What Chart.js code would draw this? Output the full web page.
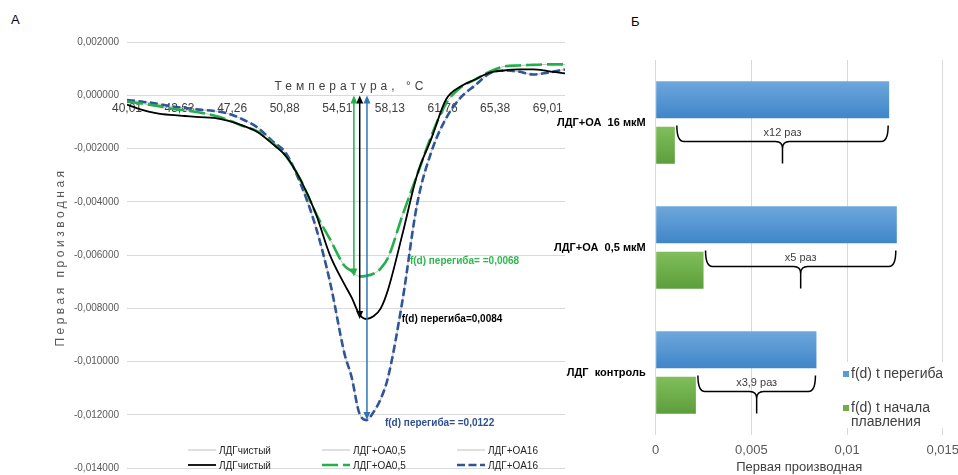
<!DOCTYPE html>
<html lang="ru">
<head>
<meta charset="utf-8">
<title>Первая производная</title>
<script src="https://cdn.jsdelivr.net/npm/chart.js@4.4.0/dist/chart.umd.min.js"></script>
<style>
  html, body { margin: 0; padding: 0; background: #fff; }
  body { width: 958px; height: 475px; position: relative; overflow: hidden; font-family: "Liberation Sans", Arial, sans-serif; }
  .panel { position: absolute; top: 0; }
  #boxA { left: 0; width: 590px; height: 482px; }
  #boxB { left: 540px; width: 427px; height: 475px; }
  .letter { position: absolute; font-size: 13px; color: #000; line-height: 15px; }
</style>
</head>
<body>
<div class="letter" style="left:11px;top:12px">А</div>
<div class="letter" style="left:631px;top:14px">Б</div>
<div class="panel" id="boxA"><canvas id="chartA"></canvas></div>
<div class="panel" id="boxB"><canvas id="chartB"></canvas></div>
<script>
Chart.defaults.font.family = '"Liberation Sans", Arial, sans-serif';

// ---- panel A: first derivative of melting curves ----
const temps = [40.01, 41, 42, 43, 44, 45, 46, 47, 48, 49, 50, 51, 52, 53, 54, 55, 55.5, 56, 56.5, 57, 57.5, 58, 59, 60, 61, 62, 63, 64, 65, 66, 67, 68, 69, 70.2];
const ldgPure = [-0.00034, -0.00053, -0.00066, -0.00073, -0.00077, -0.00081, -0.00084, -0.00095, -0.00113, -0.00137,
                 -0.0018, -0.0023, -0.0032, -0.0044, -0.006, -0.0071, -0.0076, -0.0082, -0.0084, -0.0083,
                 -0.008, -0.0073, -0.0052, -0.003, -0.0016, -0.00015, 0.00034, 0.0006, 0.00086, 0.00094,
                 0.00098, 0.00098, 0.00092, 0.00083];
const ldgOa05 = [-0.00023, -0.0003, -0.00038, -0.00049, -0.00056, -0.00064, -0.00075, -0.00092, -0.00115, -0.00135,
                 -0.00177, -0.0023, -0.0032, -0.0044, -0.0054, -0.0064, -0.0066, -0.0068, -0.00678, -0.0067,
                 -0.0065, -0.0061, -0.0045, -0.003, -0.0015, -0.0003, 0.0003, 0.0006, 0.0009, 0.00109,
                 0.00113, 0.00115, 0.00117, 0.00117];
const ldgOa16 = [-0.00017, -0.00023, -0.0003, -0.0004, -0.00047, -0.00053, -0.00058, -0.00068, -0.0009, -0.0012,
                 -0.0017, -0.0022, -0.00335, -0.0049, -0.007, -0.0097, -0.0106, -0.0119, -0.0122, -0.0119,
                 -0.0114, -0.0106, -0.0077, -0.0041, -0.0021, -0.00086, -0.00008, 0.00038, 0.00083, 0.00094,
                 0.0009, 0.00079, 0.00086, 0.00098];
const tempTicks = [40.01, 43.63, 47.26, 50.88, 54.51, 58.13, 61.76, 65.38, 69.01];
const seriesNames = ['ЛДГчистый', 'ЛДГ+ОА0,5', 'ЛДГ+ОА16'];
// inflection markers: temperature of the arrow and |f(d)| at the inflection
const peakTemps = [56.05, 55.65, 56.55];
const peakValues = [0.0084, 0.0068, 0.0122];
const peakPrefix = ['f(d) перегиба=', 'f(d) перегиба= =', 'f(d) перегиба= ='];

// ---- panel Б: bars ----
const groups = ['ЛДГ+ОА  16 мкМ', 'ЛДГ+ОА  0,5 мкМ', 'ЛДГ  контроль'];
const inflection = [0.0122, 0.0126, 0.0084];
const meltOnset = [0.001, 0.0025, 0.0021];
const ratioLabels = ['x12 раз', 'x5 раз', 'x3,9 раз'];

const curves = [ldgPure, ldgOa05, ldgOa16];
const styles = [
  { color: '#000000', width: 1.8, dash: [] },
  { color: '#22b04b', width: 2.6, dash: [16, 5] },
  { color: '#2f5597', width: 2.6, dash: [8, 3.5] }
];
const arrowColors = ['#000000', '#22b04b', '#2e75b6'];
const labelColors = ['#000000', '#2db84d', '#2f4f8f'];
const labelShift = [[42, 0], [56, -15], [18, 3]];

const pts = vals => temps.map((t, i) => ({ x: t, y: vals[i] }));
const comma = s => String(s).replace('.', ',');

const datasetsA = [
  ...curves.map((v, i) => ({
    label: seriesNames[i], data: pts(v), borderColor: '#bfbfbf', borderWidth: 1,
    pointRadius: 0, order: 2, cubicInterpolationMode: 'monotone'
  })),
  ...curves.map((v, i) => ({
    label: seriesNames[i], data: pts(v), borderColor: styles[i].color, borderWidth: styles[i].width,
    borderDash: styles[i].dash, pointRadius: 0, order: 1, cubicInterpolationMode: 'monotone'
  }))
];

function arrowHead(ctx, x, y, dir) {
  ctx.beginPath();
  ctx.moveTo(x, y);
  ctx.lineTo(x - 3.5, y - dir * 8);
  ctx.lineTo(x + 3.5, y - dir * 8);
  ctx.closePath();
  ctx.fill();
}

const decorA = {
  id: 'decorA',
  afterDatasetsDraw(chart) {
    const { ctx, scales: { x, y } } = chart;
    const y0 = y.getPixelForValue(0);
    peakValues.forEach((v, i) => {
      const px = x.getPixelForValue(peakTemps[i]);
      const py = y.getPixelForValue(-v);
      ctx.save();
      ctx.strokeStyle = arrowColors[i];
      ctx.fillStyle = arrowColors[i];
      ctx.lineWidth = 1.5;
      ctx.beginPath();
      ctx.moveTo(px, y0 + 6);
      ctx.lineTo(px, py - 6);
      ctx.stroke();
      arrowHead(ctx, px, y0, -1);
      arrowHead(ctx, px, py, 1);
      ctx.font = 'bold 10px "Liberation Sans", Arial, sans-serif';
      ctx.fillStyle = labelColors[i];
      ctx.textBaseline = 'middle';
      ctx.fillText(peakPrefix[i] + comma(v.toFixed(4)), px + labelShift[i][0], py + labelShift[i][1]);
      ctx.restore();
    });
  },
  afterDraw(chart) {
    const { ctx, chartArea } = chart;
    ctx.save();
    // axis titles
    ctx.fillStyle = '#404040';
    ctx.font = '12px "Liberation Sans", Arial, sans-serif';
    ctx.letterSpacing = '4px';
    ctx.textAlign = 'center';
    ctx.textBaseline = 'middle';
    ctx.fillText('Температура, °C', (chartArea.left + chartArea.right) / 2 + 5, 87);
    ctx.fillStyle = '#595959';
    ctx.letterSpacing = '3.5px';
    ctx.translate(61, 257);
    ctx.rotate(-Math.PI / 2);
    ctx.fillText('Первая производная', 0, 0);
    ctx.restore();

    // legend: 3 columns x 2 rows
    const colX = [188, 322, 457];
    const rowY = [450, 465];
    ctx.save();
    ctx.font = '10px "Liberation Sans", Arial, sans-serif';
    ctx.textBaseline = 'middle';
    chart.data.datasets.forEach((ds, i) => {
      const lx = colX[i % 3], ly = rowY[Math.floor(i / 3)];
      ctx.strokeStyle = ds.borderColor;
      ctx.lineWidth = ds.borderWidth;
      ctx.setLineDash(ds.borderDash || []);
      ctx.beginPath();
      ctx.moveTo(lx, ly);
      ctx.lineTo(lx + 28, ly);
      ctx.stroke();
      ctx.setLineDash([]);
      ctx.fillStyle = '#262626';
      ctx.fillText(ds.label, lx + 31, ly + 1);
    });
    ctx.restore();
  }
};

new Chart(document.getElementById('chartA'), {
  type: 'line',
  data: { datasets: datasetsA },
  options: {
    responsive: true,
    maintainAspectRatio: false,
    animation: false,
    layout: { padding: { left: 0, right: 25, top: 42.3, bottom: 0.6 } },
    plugins: { legend: { display: false }, tooltip: { enabled: false } },
    scales: {
      x: {
        type: 'linear',
        position: { y: 0 },
        min: 40.01,
        max: 70.2,
        grid: { display: false, drawTicks: false },
        border: { display: false },
        afterBuildTicks: s => { s.ticks = tempTicks.map(v => ({ value: v })); },
        ticks: {
          autoSkip: false, maxRotation: 0, padding: 6,
          color: '#404040', font: { size: 12 },
          callback: v => comma(v.toFixed(2))
        }
      },
      y: {
        min: -0.014,
        max: 0.002,
        afterFit: s => { s.width = 127; },
        grid: { color: '#d9d9d9', drawTicks: false },
        border: { display: false },
        ticks: {
          stepSize: 0.002, padding: 8, color: '#595959', font: { size: 10 },
          callback: v => comma((Math.abs(v) < 1e-10 ? 0 : v).toFixed(6))
        }
      }
    }
  },
  plugins: [decorA]
});

// ---- panel Б ----
function barGradient(top, bottom, dsIndex) {
  return ctx => {
    const chart = ctx.chart;
    const y = chart.scales.y;
    if (!y || ctx.dataIndex === undefined) return top;
    const c = y.getPixelForValue(ctx.dataIndex);
    if (!isFinite(c)) return top;
    const y1 = dsIndex === 0 ? c - 42 : c + 4;
    const g = chart.ctx.createLinearGradient(0, y1, 0, y1 + 38);
    g.addColorStop(0, top);
    g.addColorStop(1, bottom);
    return g;
  };
}

const decorB = {
  id: 'decorB',
  afterDatasetsDraw(chart) {
    const { ctx, scales: { x, y } } = chart;
    ctx.save();
    ctx.strokeStyle = '#000';
    ctx.lineWidth = 1.5;
    groups.forEach((g, i) => {
      const c = y.getPixelForValue(i);
      const x1 = x.getPixelForValue(meltOnset[i]) + 2;
      const x2 = x.getPixelForValue(inflection[i]) - 1;
      const xm = (x1 + x2) / 2;
      const yTop = c + 3, yLine = c + 19, yTip = c + 41, r = 7;
      ctx.beginPath();
      ctx.moveTo(x1, yTop);
      ctx.quadraticCurveTo(x1, yLine, x1 + r, yLine);
      ctx.lineTo(xm - r, yLine);
      ctx.quadraticCurveTo(xm, yLine, xm, yLine + r);
      ctx.lineTo(xm, yTip);
      ctx.moveTo(x2, yTop);
      ctx.quadraticCurveTo(x2, yLine, x2 - r, yLine);
      ctx.lineTo(xm + r, yLine);
      ctx.quadraticCurveTo(xm, yLine, xm, yLine + r);
      ctx.stroke();
      ctx.fillStyle = '#404040';
      ctx.font = '11px "Liberation Sans", Arial, sans-serif';
      ctx.textAlign = 'center';
      ctx.textBaseline = 'middle';
      ctx.fillText(ratioLabels[i], xm, c + 10);
    });
    ctx.restore();

    // legend inside plot area
    ctx.save();
    ctx.fillStyle = '#fff';
    ctx.fillRect(840 - 540, 362, 112, 66);
    const items = [
      { color: '#5b9bd5', lines: [chart.data.datasets[0].label], y: 374 },
      { color: '#70ad47', lines: ['f(d) t начала', 'плавления'], y: 408 }
    ];
    ctx.font = '14px "Liberation Sans", Arial, sans-serif';
    ctx.textBaseline = 'middle';
    items.forEach(it => {
      ctx.fillStyle = it.color;
      ctx.fillRect(843 - 540, it.y - 3, 6, 6);
      ctx.fillStyle = '#404040';
      it.lines.forEach((t, k) => ctx.fillText(t, 851 - 540, it.y + k * 14));
    });
    ctx.restore();
  }
};

new Chart(document.getElementById('chartB'), {
  type: 'bar',
  data: {
    labels: groups,
    datasets: [
      { label: 'f(d) t перегиба', data: inflection, backgroundColor: barGradient('#6fa8dc', '#3f85c9', 0) },
      { label: 'f(d) t начала плавления', data: meltOnset, backgroundColor: barGradient('#80bf5b', '#5c9d3b', 1) }
    ]
  },
  options: {
    indexAxis: 'y',
    responsive: true,
    maintainAspectRatio: false,
    animation: false,
    categoryPercentage: 0.73,
    barPercentage: 0.81,
    layout: { padding: { left: 0, right: 0, top: 60, bottom: 0 } },
    plugins: { legend: { display: false }, tooltip: { enabled: false } },
    scales: {
      x: {
        min: 0,
        max: 0.015,
        afterFit: s => { s.height = 40; },
        grid: { color: '#d9d9d9', drawTicks: false },
        border: { display: false },
        ticks: { stepSize: 0.005, padding: 8, color: '#595959', font: { size: 13 }, callback: v => comma(v) },
        title: { display: true, text: 'Первая производная', color: '#404040', font: { size: 13 }, padding: { top: 1, bottom: 0 } }
      },
      y: {
        afterFit: s => { s.width = 115.7; },
        grid: { display: false, drawTicks: false },
        border: { display: false },
        ticks: { padding: 10, color: '#000', font: { size: 11, weight: 'bold' } }
      }
    }
  },
  plugins: [decorB]
});
</script>
</body>
</html>
